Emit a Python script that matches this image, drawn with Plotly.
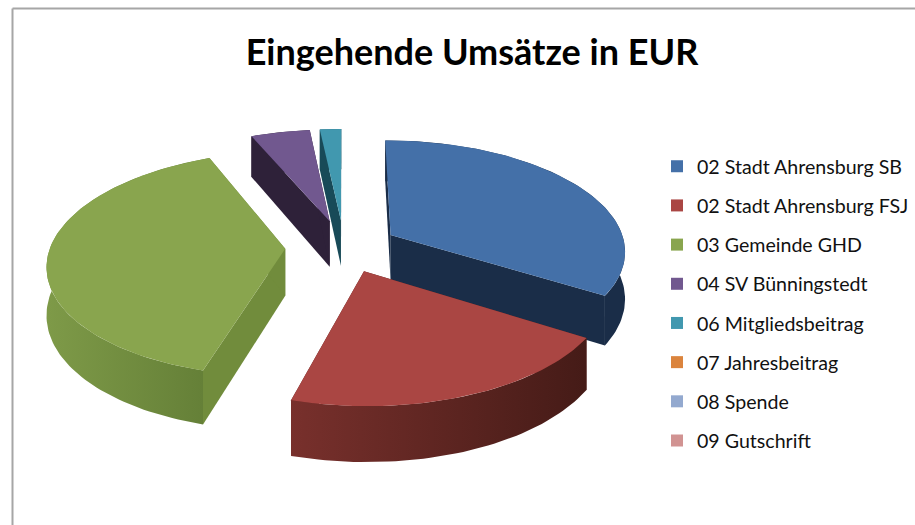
import math
import plotly.graph_objects as go

title = "Eingehende Umsätze in EUR"
categories = ["02 Stadt Ahrensburg SB", "02 Stadt Ahrensburg FSJ", "03 Gemeinde GHD",
              "04 SV Bünningstedt", "06 Mitgliedsbeitrag", "07 Jahresbeitrag",
              "08 Spende", "09 Gutschrift"]
values = [33.9, 20.5, 39.2, 4.7, 1.7, 0, 0, 0]
top_colors = ["#4470A8", "#AA4643", "#89A54E", "#71588F", "#4198AF", "#DB843D", "#93A9CF", "#D19392"]
wall_left = ["#1A2D48", "#78302C", "#7E9A48", "#2E2139", "#184A58", "#000000", "#000000", "#000000"]
wall_right = ["#1A2D48", "#451B17", "#647F37", "#2E2139", "#184A58", "#000000", "#000000", "#000000"]
cut_colors = ["#1A2D48", "#5A2320", "#718C3C", "#2E2139", "#184A58", "#000000", "#000000", "#000000"]
explode = [0.23, 0.23, 0.25, 0.25, 0.25, 0, 0, 0]
draw_order = [4, 3, 2, 0, 1]

# view of the pie
CX, CY, A, B, P, H = 344, 247, 235, 110, 0.132, 47


def project(gx, gy, down=False):
    s = 1 / (1 + P * gy)
    return CX + A * gx * s, CY - B * gy * s + (H * s if down else 0)


total = sum(values)
fig = go.Figure()
start = 0.0
geometry = {}
for i, v in enumerate(values):
    sweep = 2 * math.pi * v / total
    geometry[i] = (start, start + sweep)
    start += sweep

for i in draw_order:
    a0, a1 = geometry[i]
    mid = (a0 + a1) / 2
    tx, ty = explode[i] * math.sin(mid), explode[i] * math.cos(mid)
    n = max(8, int((a1 - a0) * 40))
    rim = [(tx + math.sin(a0 + (a1 - a0) * k / n), ty + math.cos(a0 + (a1 - a0) * k / n)) for k in range(n + 1)]
    t_up, t_dn = project(tx, ty), project(tx, ty, True)

    # cut faces
    for g in (rim[0], rim[-1]):
        p_up, p_dn = project(*g), project(*g, True)
        fig.add_trace(go.Scatter(x=[t_up[0], p_up[0], p_dn[0], t_dn[0], t_up[0]],
                                 y=[t_up[1], p_up[1], p_dn[1], t_dn[1], t_up[1]],
                                 mode="lines", fill="toself", fillcolor=cut_colors[i],
                                 line=dict(width=0), showlegend=False, hoverinfo="skip"))
    # outer wall
    up = [project(*g) for g in rim]
    dn = [project(*g, True) for g in rim]
    poly = up + dn[::-1] + [up[0]]
    fig.add_trace(go.Scatter(x=[p[0] for p in poly], y=[p[1] for p in poly], mode="lines", fill="toself",
                             fillgradient=dict(type="horizontal",
                                               colorscale=[[0, wall_left[i]], [1, wall_right[i]]]),
                             line=dict(width=0), showlegend=False, hoverinfo="skip"))
    # top
    poly = [t_up] + up + [t_up]
    fig.add_trace(go.Scatter(x=[p[0] for p in poly], y=[p[1] for p in poly], mode="lines", fill="toself",
                             fillcolor=top_colors[i], line=dict(width=0), name=categories[i],
                             showlegend=False, hoverinfo="name"))

# legend entries
for i, c in enumerate(categories):
    fig.add_trace(go.Scatter(x=[None], y=[None], mode="markers", name=c, legendgroup=c,
                             marker=dict(symbol="square", size=12, color=top_colors[i])))

fig.update_layout(
    width=915, height=525,
    margin=dict(l=0, r=0, t=0, b=0),
    paper_bgcolor="white", plot_bgcolor="white",
    font=dict(family="Lato", color="#111111"),
    title=dict(text=f"<b>{title}</b>", x=472 / 915, xanchor="center", y=1 - 52 / 525, yanchor="middle",
               font=dict(size=36, family="Lato", color="black")),
    xaxis=dict(range=[0, 915], visible=False, fixedrange=True),
    yaxis=dict(range=[525, 0], visible=False, fixedrange=True),
    legend=dict(x=657 / 915, y=1 - 147 / 525, xanchor="left", yanchor="top",
                font=dict(size=19.6, family="Lato", color="#111111"),
                tracegroupgap=10.7, bgcolor="rgba(0,0,0,0)"),
    shapes=[
        dict(type="line", xref="paper", yref="paper", x0=12.5 / 915, x1=1, y0=1 - 8.5 / 525, y1=1 - 8.5 / 525,
             line=dict(color="#A6A6A6", width=2)),
        dict(type="line", xref="paper", yref="paper", x0=12.5 / 915, x1=12.5 / 915, y0=0, y1=1 - 8.5 / 525,
             line=dict(color="#A6A6A6", width=2)),
    ],
)
fig.write_html("out.html", post_script="document.body.style.margin='0';", config={"displayModeBar": False})
